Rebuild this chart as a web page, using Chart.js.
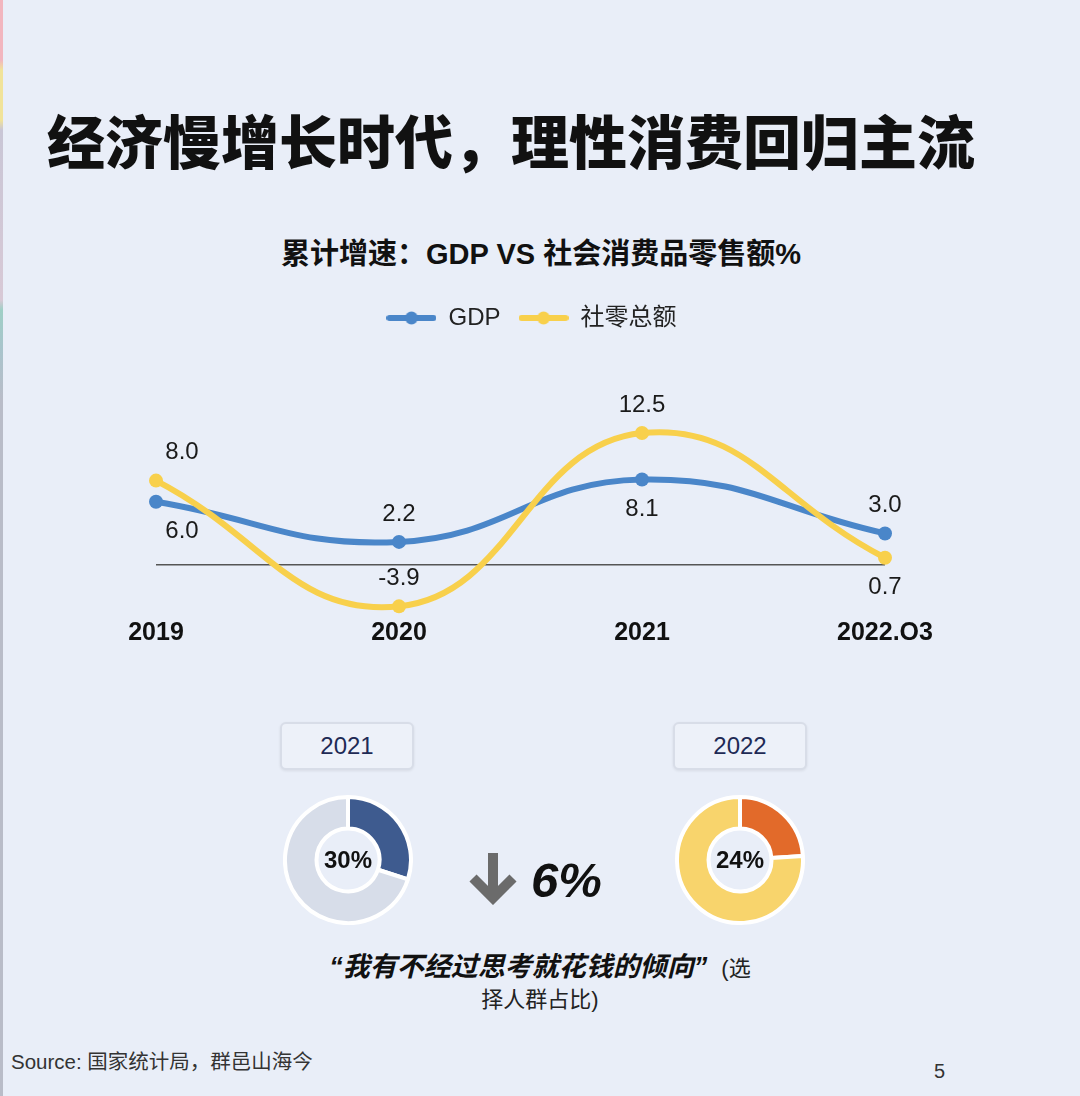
<!DOCTYPE html>
<html lang="zh">
<head>
<meta charset="utf-8">
<title>经济慢增长时代，理性消费回归主流</title>
<script src="https://cdn.jsdelivr.net/npm/chart.js@4.4.1/dist/chart.umd.min.js"></script>
<style>
  html, body { margin: 0; padding: 0; }
  body {
    width: 1080px; height: 1096px; position: relative; overflow: hidden;
    background: #e9eef8;
    font-family: "Liberation Sans", Arial, "Noto Sans CJK SC", sans-serif;
    color: #111;
  }
  .strip { position: absolute; left: 0; top: 0; width: 3px; height: 1096px;
    background: linear-gradient(#f2b6bf 0, #f2b6bf 60px, #f1e39a 70px, #f1e39a 120px, #c9c6d6 130px, #d8c9d6 300px, #9fcfc6 310px, #a9c4cc 350px, #b9bcc8 400px, #b9bcc8 1096px); }
  .title { position: absolute; left: 47px; top: 108px; font-family: "Noto Sans CJK SC", sans-serif;
    font-weight: 900; font-size: 58px; line-height: 62px; white-space: nowrap; }
  .subtitle { position: absolute; left: 0; width: 1082px; top: 235px; text-align: center;
    font-weight: bold; font-size: 29px; line-height: 38px; }
  #lineChart { position: absolute; left: 0; top: 280px; }
  .yearBox { position: absolute; top: 722px; height: 44px; line-height: 44px; text-align: center;
    font-size: 24px; color: #1e2a55; background: #edf1f9; border: 2px solid #d8dde8; border-radius: 6px;
    box-shadow: 0 1px 3px rgba(0,0,0,0.08); }
  .donut { position: absolute; top: 795px; }
  .arrow { position: absolute; left: 468px; top: 853px; }
  .drop { position: absolute; left: 531px; top: 851px; font-size: 49px; font-weight: bold; font-style: italic; line-height: 58px; }
  .quote { position: absolute; left: 290px; width: 500px; top: 952px; text-align: center; line-height: 31px; font-size: 22px; color: #222; }
  .quote b { font-size: 27px; font-style: italic; color: #111; margin-right: 14px; }
  .source { position: absolute; left: 11px; top: 1045px; font-size: 20.5px; color: #333; }
  .page { position: absolute; left: 934px; top: 1060px; font-size: 20px; color: #333; }
</style>
</head>
<body>
<div class="strip"></div>
<div class="title">经济慢增长时代，理性消费回归主流</div>
<div class="subtitle">累计增速：GDP VS 社会消费品零售额%</div>
<canvas id="lineChart" width="1080" height="364"></canvas>

<div class="yearBox" style="left:280px;width:130px;">2021</div>
<div class="yearBox" style="left:673px;width:130px;">2022</div>
<canvas id="donut2021" class="donut" style="left:283px" width="130" height="130"></canvas>
<canvas id="donut2022" class="donut" style="left:675px" width="130" height="130"></canvas>

<svg class="arrow" width="50" height="52" viewBox="0 0 50 52">
  <line x1="25" y1="0" x2="25" y2="44" stroke="#6b6b6b" stroke-width="10"/>
  <polyline points="5,25 25,45 45,25" fill="none" stroke="#6b6b6b" stroke-width="10"/>
</svg>
<div class="drop">6%</div>

<div class="quote"><b>“我有不经过思考就花钱的倾向”</b>(选<br>择人群占比)</div>
<div class="source">Source: 国家统计局，群邑山海今</div>
<div class="page">5</div>

<script>
// 数据
const categories = ['2019', '2020', '2021', '2022.Q3'];
const seriesNames = ['GDP', '社零总额'];
const gdpValues = [6.0, 2.2, 8.1, 3.0];
const retailValues = [8.0, -3.9, 12.5, 0.7];
const share2021 = [30, 70];
const share2022 = [24, 76];

const FONT = '"Liberation Sans", Arial, "Noto Sans CJK SC", sans-serif';
const corAzul = '#4a86c9';
const corAmarela = '#f8d04c';

// posição dos rótulos (acima / abaixo do ponto)
const gdpLabelPos = ['below', 'above', 'below', 'above'];
const retailLabelPos = ['above', 'above', 'above', 'below'];
const labelShiftX = [26, 0, 0, 0];

function legendIcon(color) {
    const c = document.createElement('canvas');
    c.width = 50; c.height = 14;
    const g = c.getContext('2d');
    g.strokeStyle = color; g.lineWidth = 6; g.lineCap = 'round';
    g.beginPath(); g.moveTo(3, 7); g.lineTo(47, 7); g.stroke();
    g.fillStyle = color;
    g.beginPath(); g.arc(25, 7, 6.5, 0, Math.PI * 2); g.fill();
    return c;
}

// desenha os valores em cima / embaixo dos pontos
const valueLabels = {
    id: 'valueLabels',
    afterDatasetsDraw(chart) {
        const ctx = chart.ctx;
        ctx.save();
        ctx.font = '24px ' + FONT;
        ctx.fillStyle = '#1a1a1a';
        ctx.textAlign = 'center';
        ctx.textBaseline = 'middle';
        chart.data.datasets.forEach((ds, i) => {
            const meta = chart.getDatasetMeta(i);
            meta.data.forEach((pt, j) => {
                const dy = ds.labelPos[j] === 'above' ? -28 : 30;
                ctx.fillText(ds.data[j].toFixed(1), pt.x + labelShiftX[j], pt.y + dy);
            });
        });
        ctx.restore();
    }
};

new Chart(document.getElementById('lineChart'), {
    type: 'line',
    data: {
        labels: categories,
        datasets: [
            { label: seriesNames[0], data: gdpValues, borderColor: corAzul, backgroundColor: corAzul,
              labelPos: gdpLabelPos, order: 1 },
            { label: seriesNames[1], data: retailValues, borderColor: corAmarela, backgroundColor: corAmarela,
              labelPos: retailLabelPos, order: 0 }
        ]
    },
    options: {
        responsive: false,
        animation: false,
        layout: { padding: { left: 156, right: 173, top: 8, bottom: 4 } },
        elements: {
            line: { borderWidth: 6, tension: 0.45 },
            point: { radius: 7, borderWidth: 0 }
        },
        plugins: {
            tooltip: { enabled: false },
            legend: {
                labels: {
                    usePointStyle: true,
                    pointStyleWidth: 50,
                    padding: 18,
                    color: '#222',
                    font: { family: FONT, size: 24 },
                    sort: (a, b) => a.datasetIndex - b.datasetIndex,
                    generateLabels(chart) {
                        const items = Chart.defaults.plugins.legend.labels.generateLabels(chart);
                        items.forEach(it => {
                            it.pointStyle = legendIcon(chart.data.datasets[it.datasetIndex].borderColor);
                        });
                        return items;
                    }
                }
            }
        },
        scales: {
            x: {
                grid: { display: false },
                border: { display: false },
                ticks: { color: '#111', padding: -8, font: { family: FONT, size: 25, weight: 'bold' } }
            },
            y: {
                position: 'right',
                min: -5,
                max: 21.3,
                border: { display: false },
                ticks: { display: false, stepSize: 1 },
                grid: {
                    drawTicks: false,
                    lineWidth: 1.5,
                    color: (c) => c.tick && c.tick.value === 0 ? '#555' : 'rgba(0,0,0,0)'
                },
                afterFit: (scale) => { scale.width = 22; }
            }
        }
    },
    plugins: [valueLabels]
});

// texto no centro das roscas
const centerText = {
    id: 'centerText',
    afterDraw(chart) {
        const ctx = chart.ctx;
        const arc = chart.getDatasetMeta(0).data[0];
        ctx.save();
        ctx.font = 'bold 24px ' + FONT;
        ctx.fillStyle = '#111';
        ctx.textAlign = 'center';
        ctx.textBaseline = 'middle';
        ctx.fillText(chart.data.datasets[0].data[0] + '%', arc.x, arc.y + 1);
        ctx.restore();
    }
};

function criarRosca(id, valores, cores) {
    new Chart(document.getElementById(id), {
        type: 'doughnut',
        data: {
            labels: ['是', '否'],
            datasets: [{ data: valores, backgroundColor: cores, borderColor: '#ffffff', borderWidth: 4 }]
        },
        options: {
            responsive: false,
            animation: false,
            cutout: '50%',
            plugins: { legend: { display: false }, tooltip: { enabled: false } }
        },
        plugins: [centerText]
    });
}

criarRosca('donut2021', share2021, ['#3e5b8f', '#d7dde9']);
criarRosca('donut2022', share2022, ['#e26a2a', '#f8d46c']);
</script>
</body>
</html>
